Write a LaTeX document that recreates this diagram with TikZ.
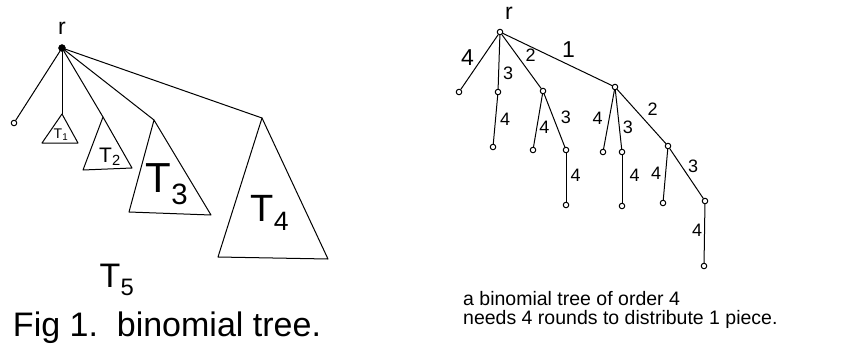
\documentclass[tikz,border=0pt]{standalone}
\usepackage{fontspec}
\setmainfont{Liberation Sans}
\usepackage{tikz}
\usetikzlibrary{positioning}

\begin{document}
\begin{tikzpicture}[
x=1pt, y=-1pt,
every node/.style={inner sep=1pt},
edge/.style={line width=1pt, line cap=round, line join=round},
root/.style={circle, fill, draw, minimum size=7pt, inner sep=0pt},
vtx/.style={circle, draw, line width=1pt, minimum size=5.5pt, inner sep=0pt, fill=white},
lbl/.style={font=\fontsize{18}{18}\selectfont},
biglbl/.style={font=\fontsize{23}{23}\selectfont},
tname/.style={font=\fontsize{#1}{#1}\selectfont},
cap/.style={font=\fontsize{#1}{#1}\selectfont}
]
\useasboundingbox (0,0) rectangle (851,351);

% --- Left: binomial tree T5 ---
\node[root] (lr) at (62,48) {};
\node[biglbl, above=9pt of lr] (lrname) {r};
\node[vtx] (lleaf) at (14,123) {};

\coordinate (t1) at (62,114);
\coordinate (t2) at (103,117);
\coordinate (t3) at (154,120);
\coordinate (t4) at (262,118);

\draw[edge] (t1) -- (42,143) -- (78,143) -- cycle;
\draw[edge] (t2) -- (83,170) -- (132,168) -- cycle;
\draw[edge] (t3) -- (129,212) -- (211,215) -- cycle;
\draw[edge] (t4) -- (218,257) -- (328,259) -- cycle;

\node[tname=14] (T1) at (61,135) {T\textsubscript{1}};
\node[tname=21] (T2) at (110,157) {T\textsubscript{2}};
\node[tname=42] (T3) at (167,184) {T\textsubscript{3}};
\node[tname=38] (T4) at (270,213) {T\textsubscript{4}};
\node[tname=34] (T5) at (117,280) {T\textsubscript{5}};

\draw[edge] (lr) -- (lleaf);
\draw[edge] (lr) -- (t1);
\draw[edge] (lr) -- (t2);
\draw[edge] (lr) -- (t3);
\draw[edge] (lr) -- (t4);

\node[cap=34] (lcap) at (167,328) {Fig 1.\ \ binomial tree.};

% --- Right: binomial tree of order 4 ---
\node[vtx] (r0) at (500,32) {};
\node[biglbl, above=8pt of r0, xshift=9pt] (r0name) {r};

\node[vtx] (a) at (459,92) {};
\node[vtx] (b) at (498,92) {};
\node[vtx] (c) at (543,91) {};
\node[vtx] (d) at (615,87) {};

\node[vtx] (b1) at (493,147) {};
\node[vtx] (c1) at (533,150) {};
\node[vtx] (c2) at (566,150) {};
\node[vtx] (c21) at (566,205) {};

\node[vtx] (d1) at (603,152) {};
\node[vtx] (d2) at (622,152) {};
\node[vtx] (d3) at (668,146) {};
\node[vtx] (d21) at (622,206) {};
\node[vtx] (d31) at (663,203) {};
\node[vtx] (d32) at (705,201) {};
\node[vtx] (d321) at (704,266) {};

% --- Connections ---
\draw[edge] (r0) -- node[biglbl, pos=.42, left=7pt] {4} (a);
\draw[edge] (r0) -- node[lbl, pos=.72, right=3pt] {3} (b);
\draw[edge] (r0) -- node[lbl, pos=.55, above right=1pt] {2} (c);
\draw[edge] (r0) -- node[biglbl, pos=.6, above=6pt] {1} (d);

\draw[edge] (b) -- node[lbl, midway, right=3pt] {4} (b1);

\draw[edge] (c) -- node[lbl, pos=.63, right=1pt] {4} (c1);
\draw[edge] (c) -- node[lbl, pos=.44, right=6pt] {3} (c2);
\draw[edge] (c2) -- node[lbl, pos=.45, right=3pt] {4} (c21);

\draw[edge] (d) -- node[lbl, pos=.48, left=5pt] {4} (d1);
\draw[edge] (d) -- node[lbl, pos=.63, right=2pt] {3} (d2);
\draw[edge] (d) -- node[lbl, pos=.55, above right=3pt] {2} (d3);
\draw[edge] (d2) -- node[lbl, pos=.43, right=6pt] {4} (d21);
\draw[edge] (d3) -- node[lbl, pos=.47, left=3pt] {4} (d31);
\draw[edge] (d3) -- node[lbl, pos=.35, right=5pt] {3} (d32);
\draw[edge] (d32) -- node[lbl, pos=.45, left=1pt] {4} (d321);

\node[cap=19.5, align=left, anchor=west] (rcap) at (462,310)
  {\fontsize{19.5}{25}\selectfont a binomial tree of order 4\\
   needs 4 rounds to distribute 1 piece.};

\end{tikzpicture}
\end{document}
